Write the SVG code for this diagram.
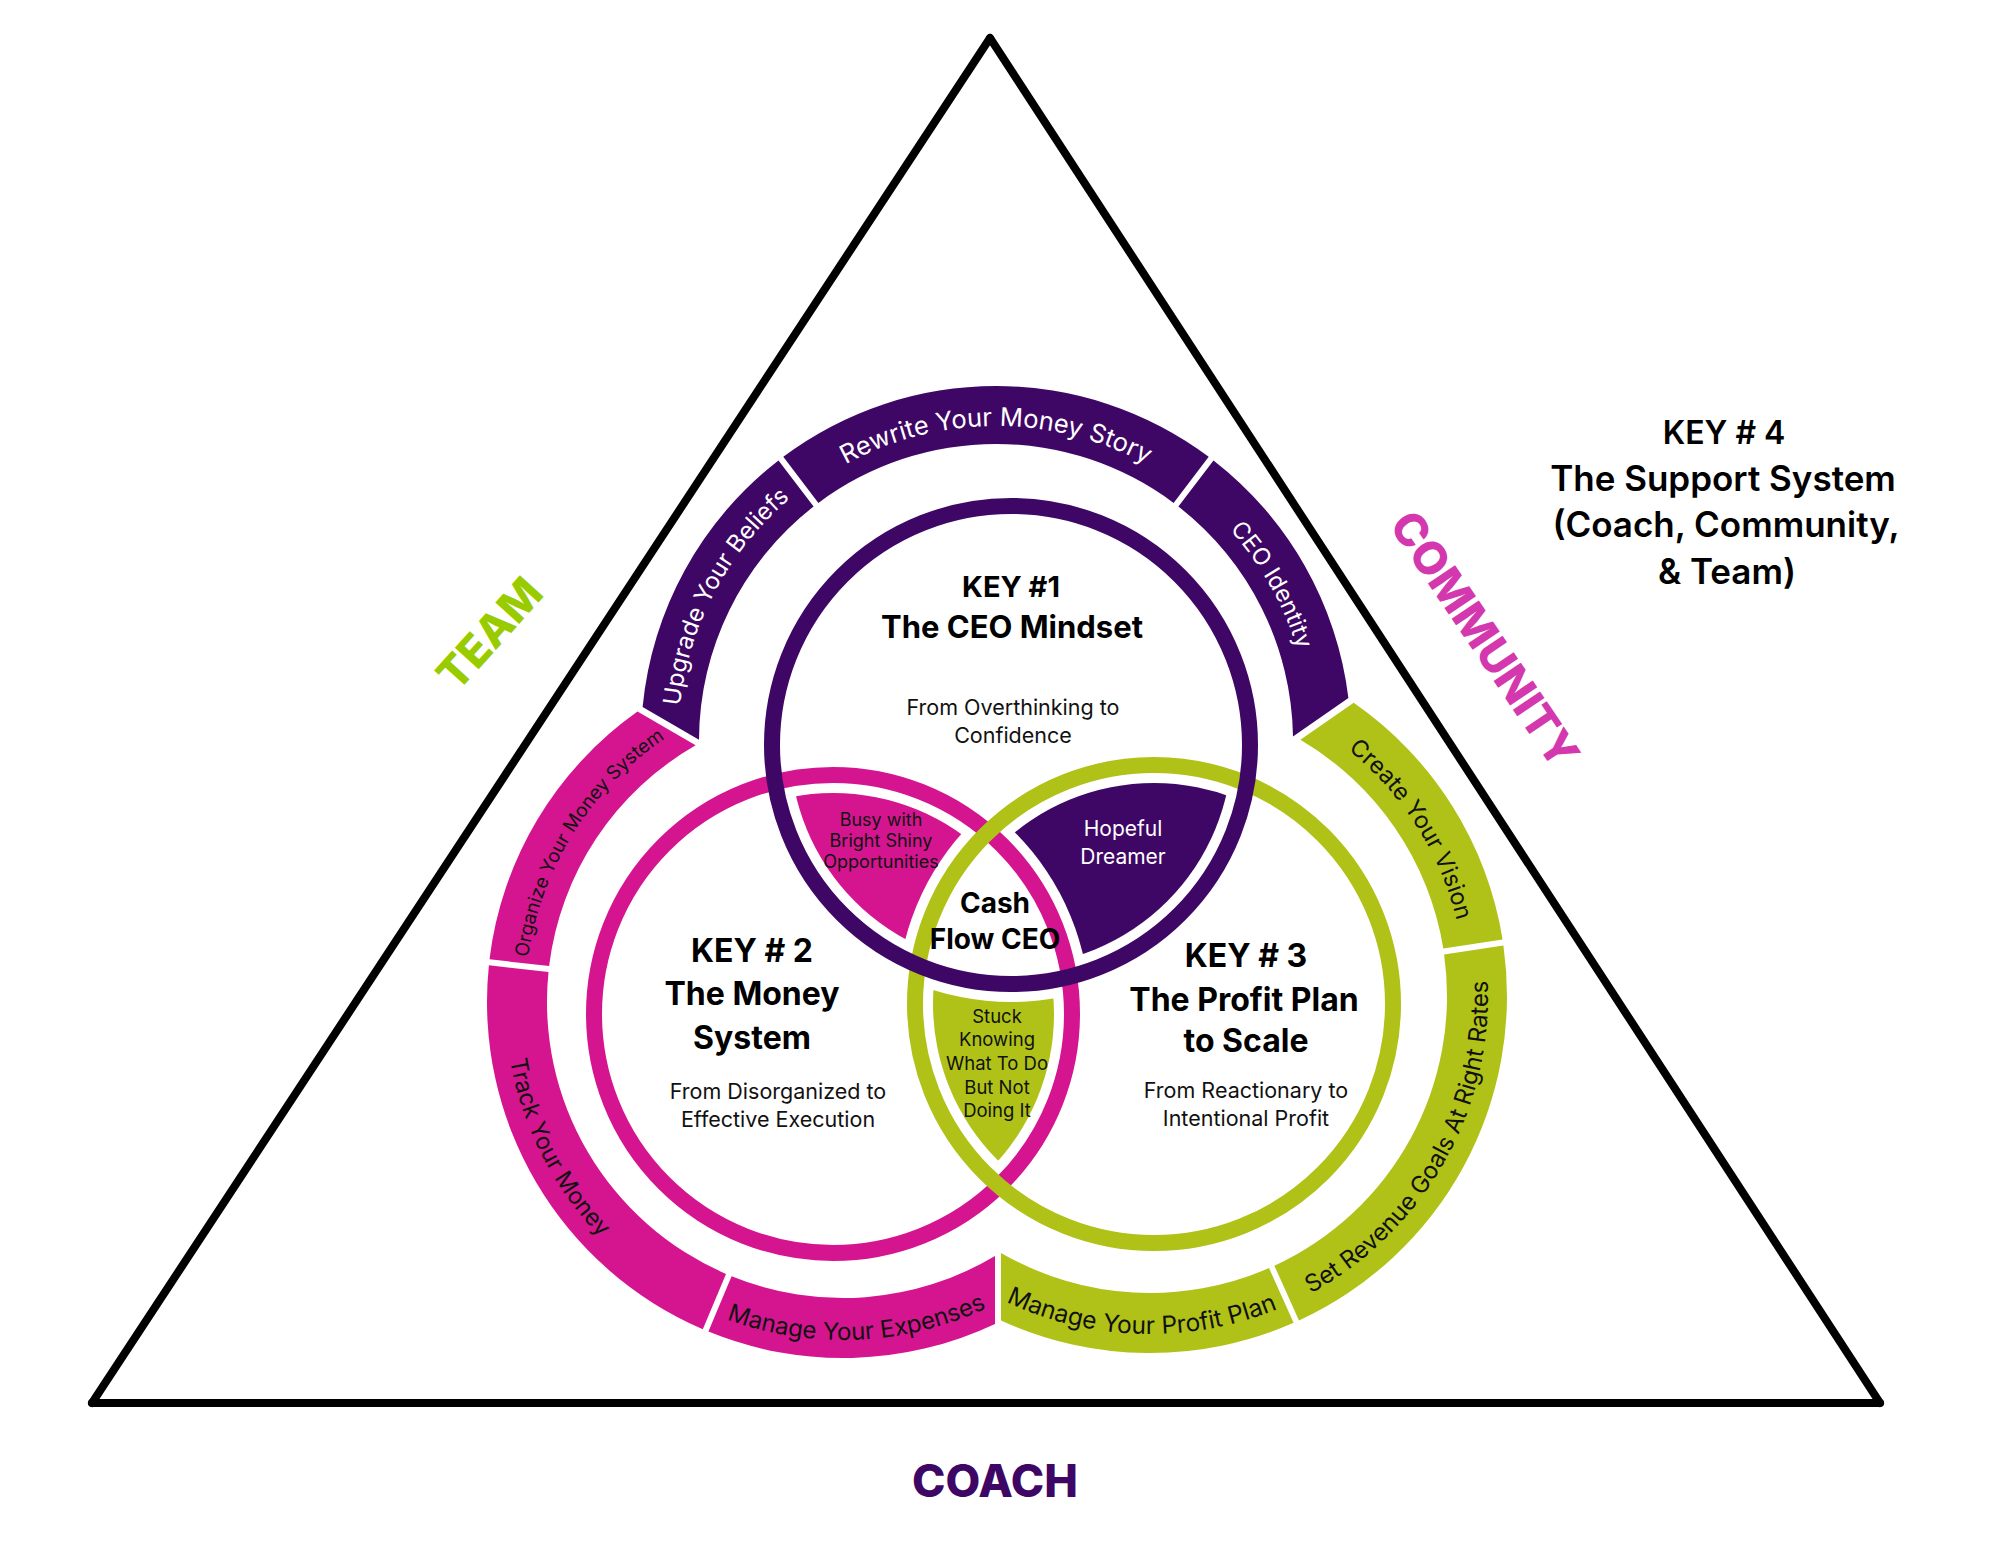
<svg xmlns="http://www.w3.org/2000/svg" xmlns:xlink="http://www.w3.org/1999/xlink" width="2000" height="1545" viewBox="0 0 2000 1545">
<style>
.t{font-family:Inter,"Liberation Sans",sans-serif;text-anchor:middle}
.h{font-weight:700;font-size:32px;fill:#000}
.h1{font-weight:700;font-size:29px;fill:#000}
.s{font-size:21.5px;fill:#111}
.arc{font-family:Inter,"Liberation Sans",sans-serif;font-size:23.5px;text-anchor:middle}
.w{fill:#fff}
.k{fill:#111}
.pur{fill:#3f0765}
.mag{fill:#d4158f}
.grn{fill:#b0c217}
.ring{fill:none;stroke-width:16}
.tri{stroke:#000;stroke-width:8;stroke-linecap:round}
</style>
<defs>
<clipPath id="in1"><circle cx="1011" cy="745" r="221"/></clipPath>
<clipPath id="in2"><circle cx="833" cy="1014" r="221"/></clipPath>
<mask id="out1" maskUnits="userSpaceOnUse" x="0" y="0" width="2000" height="1545"><rect width="2000" height="1545" fill="#fff"/><circle cx="1011" cy="745" r="257" fill="#000"/></mask>
<mask id="out2" maskUnits="userSpaceOnUse" x="0" y="0" width="2000" height="1545"><rect width="2000" height="1545" fill="#fff"/><circle cx="833" cy="1014" r="257" fill="#000"/></mask>
<mask id="out3" maskUnits="userSpaceOnUse" x="0" y="0" width="2000" height="1545"><rect width="2000" height="1545" fill="#fff"/><circle cx="1154" cy="1004" r="257" fill="#000"/></mask>
<path id="tpUpg" d="M 678.8 718.8 A 315 315 0 0 1 800.2 490.4"/>
<path id="tpRew" d="M 838.5 468.2 A 315 315 0 0 1 1153.5 468.2"/>
<path id="tpCeo" d="M 1198.5 499.7 A 315 315 0 0 1 1307.1 691.7"/>
<path id="tpOrg" d="M 525.2 1013.1 A 318 318 0 0 1 713.7 711.5"/>
<path id="tpTrk" d="M 508.3 955.0 A 338 338 0 0 0 684.3 1300.4"/>
<path id="tpExp" d="M 716.4 1315.4 A 338 338 0 0 0 996.4 1303.2"/>
<path id="tpCre" d="M 1344.5 747.0 A 316 316 0 0 1 1457.9 924.9"/>
<path id="tpSet" d="M 1298.2 1299.8 A 338 338 0 0 0 1486.7 966.5"/>
<path id="tpPro" d="M 1001.8 1299.8 A 338 338 0 0 0 1282.1 1307.1"/>
</defs>
<rect width="2000" height="1545" fill="#fff"/>

<g id="triangle">
<line class="tri" x1="990" y1="38" x2="92" y2="1403"/>
<line class="tri" x1="990" y1="38" x2="1880" y2="1403"/>
<line class="tri" x1="92" y1="1403" x2="1880" y2="1403"/>
</g>

<g id="band-key1">
<path class="pur" d="M 642.6 707 A 355 355 0 0 1 778.5 460.4 L 813.6 506.5 A 297 297 0 0 0 699.0 739.7 Z"/>
<path class="pur" d="M 783.3 456.8 A 355 355 0 0 1 1208.7 456.8 L 1173.6 502.9 A 297 297 0 0 0 818.4 502.9 Z"/>
<path class="pur" d="M 1213.5 460.4 A 355 355 0 0 1 1348.4 698 L 1293.0 736.4 A 297 297 0 0 0 1178.4 506.5 Z"/>
<text class="arc w" style="font-size:24px"><textPath href="#tpUpg" startOffset="50%">Upgrade Your Beliefs</textPath></text>
<text class="arc w" style="font-size:25.5px"><textPath href="#tpRew" startOffset="50%">Rewrite Your Money Story</textPath></text>
<text class="arc w"><textPath href="#tpCeo" startOffset="50%">CEO Identity</textPath></text>
</g>

<g id="band-key2">
<path class="mag" d="M 489.5 959.3 A 356 356 0 0 1 637.5 711.6 L 695.6 745.3 A 296 296 0 0 0 549.1 966.0 Z"/>
<path class="mag" d="M 702.8 1329.2 A 356 356 0 0 1 488.9 965.3 L 548.5 972.0 A 296 296 0 0 0 726.0 1273.9 Z"/>
<path class="mag" d="M 995 1323.9 A 356 356 0 0 1 708.4 1331.6 L 731.6 1276.3 A 296 296 0 0 0 995 1256 Z"/>
<text class="arc k" style="font-size:19px"><textPath href="#tpOrg" startOffset="50%">Organize Your Money System</textPath></text>
<text class="arc k"><textPath href="#tpTrk" startOffset="50%">Track Your Money</textPath></text>
<text class="arc k" style="font-size:24px"><textPath href="#tpExp" startOffset="50%">Manage Your Expenses</textPath></text>
</g>

<g id="band-key3">
<path class="grn" d="M 1353.7 702.8 A 357 357 0 0 1 1502.6 939.6 L 1443.3 948.6 A 297 297 0 0 0 1300.4 739.8 Z"/>
<path class="grn" d="M 1503.4 945.6 A 357 357 0 0 1 1299.0 1320.4 L 1274.4 1265.7 A 297 297 0 0 0 1444.1 954.6 Z"/>
<path class="grn" d="M 1293.6 1322.8 A 357 357 0 0 1 1001 1320.4 L 1001 1252.9 A 297 297 0 0 0 1269.0 1268.1 Z"/>
<text class="arc k"><textPath href="#tpCre" startOffset="50%">Create Your Vision</textPath></text>
<text class="arc k" style="font-size:24px"><textPath href="#tpSet" startOffset="50%">Set Revenue Goals At Right Rates</textPath></text>
<text class="arc k" style="font-size:24.5px"><textPath href="#tpPro" startOffset="50%">Manage Your Profit Plan</textPath></text>
</g>

<g id="lens-busy">
<g mask="url(#out3)"><circle class="mag" cx="833" cy="1014" r="221" clip-path="url(#in1)"/></g>
<text class="t k" style="font-size:18px"><tspan x="881" y="826">Busy with</tspan><tspan x="881" y="847">Bright Shiny</tspan><tspan x="881" y="868">Opportunities</tspan></text>
</g>
<g id="lens-hopeful">
<g mask="url(#out2)"><circle class="pur" cx="1154" cy="1004" r="221" clip-path="url(#in1)"/></g>
<text class="t w" style="font-size:21px"><tspan x="1123" y="836">Hopeful</tspan><tspan x="1123" y="864">Dreamer</tspan></text>
</g>
<g id="lens-stuck">
<g mask="url(#out1)"><circle class="grn" cx="1154" cy="1004" r="221" clip-path="url(#in2)"/></g>
<text class="t k" style="font-size:18.5px"><tspan x="997" y="1023">Stuck</tspan><tspan x="997" y="1046">Knowing</tspan><tspan x="997" y="1070">What To Do</tspan><tspan x="997" y="1094">But Not</tspan><tspan x="997" y="1117">Doing It</tspan></text>
</g>

<g id="rings">
<circle class="ring" cx="833" cy="1014" r="239" stroke="#d4158f"/>
<circle class="ring" cx="1154" cy="1004" r="239" stroke="#b0c217"/>
<circle class="ring" cx="1011" cy="745" r="239" stroke="#3f0765"/>
</g>

<g id="key1">
<text class="t h1"><tspan x="1011" y="597">KEY #1</tspan><tspan x="1012" y="638" style="font-size:31px">The CEO Mindset</tspan></text>
<text class="t s"><tspan x="1013" y="715">From Overthinking to</tspan><tspan x="1013" y="743">Confidence</tspan></text>
</g>
<g id="key2">
<text class="t h"><tspan x="752" y="962">KEY # 2</tspan><tspan x="752" y="1005">The Money</tspan><tspan x="752" y="1049">System</tspan></text>
<text class="t s"><tspan x="778" y="1099">From Disorganized to</tspan><tspan x="778" y="1127">Effective Execution</tspan></text>
</g>
<g id="key3">
<text class="t h"><tspan x="1246" y="967">KEY # 3</tspan><tspan x="1244" y="1011">The Profit Plan</tspan><tspan x="1246" y="1052">to Scale</tspan></text>
<text class="t s"><tspan x="1246" y="1098">From Reactionary to</tspan><tspan x="1246" y="1126">Intentional Profit</tspan></text>
</g>
<g id="center">
<text class="t h" style="font-size:28px"><tspan x="995" y="913">Cash</tspan><tspan x="995" y="949">Flow CEO</tspan></text>
</g>
<g id="key4">
<text class="t" style="font-weight:600;font-size:35px;fill:#000"><tspan x="1724" y="444" style="font-size:32px">KEY # 4</tspan><tspan x="1723" y="491">The Support System</tspan><tspan x="1726" y="537">(Coach, Community,</tspan><tspan x="1727" y="584">&amp; Team)</tspan></text>
</g>
<g id="labels">
<text class="t" transform="translate(490,634) rotate(-48)" y="15" style="font-weight:800;font-size:44px;fill:#99cc00">TEAM</text>
<text class="t" transform="translate(1484,640) rotate(56)" y="15" style="font-weight:800;font-size:45px;fill:#d438ae">COMMUNITY</text>
<text class="t" x="995" y="1497" style="font-weight:800;font-size:45px;fill:#3f0765">COACH</text>
</g>
</svg>
